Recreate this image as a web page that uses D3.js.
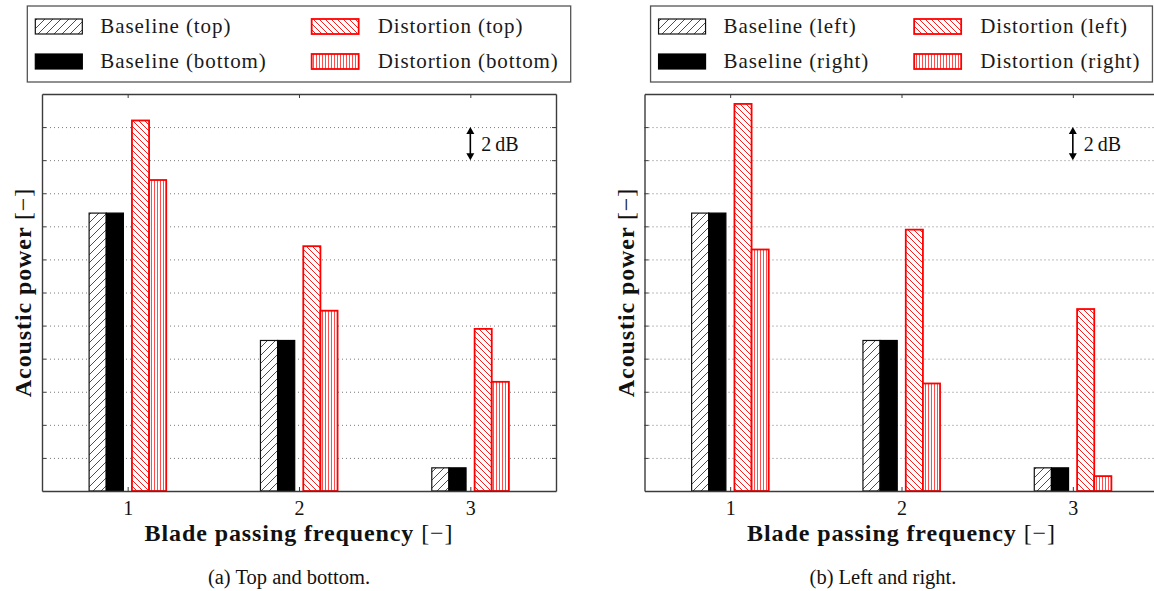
<!DOCTYPE html>
<html>
<head>
<meta charset="utf-8">
<script src="https://cdn.jsdelivr.net/npm/d3@7"></script>
<style>
  body { margin: 0; background: #fff; }
  svg { display: block; }
</style>
</head>
<body>
<svg id="chart" width="1154" height="591"></svg>
<script>
// Harmonics of the blade passing frequency
const harmonics = [1, 2, 3];
// Hidden y ticks (dB scale, one grid step = 2 dB)
const yTicks = [2, 4, 6, 8, 10, 12, 14, 16, 18, 20, 22];

// (a) top and bottom microphone arrays, relative level in dB
const baselineTop      = [16.8, 9.1, 1.4];
const baselineBottom   = [16.8, 9.1, 1.4];
const distortionTop    = [22.4, 14.8, 9.8];
const distortionBottom = [18.8, 10.9, 6.6];

// (b) left and right microphone arrays, relative level in dB
const baselineLeft    = [16.8, 9.1, 1.4];
const baselineRight   = [16.8, 9.1, 1.4];
const distortionLeft  = [23.4, 15.8, 11.0];
const distortionRight = [14.6, 6.5, 0.9];

const labelsA = ["Baseline (top)", "Baseline (bottom)", "Distortion (top)", "Distortion (bottom)"];
const labelsB = ["Baseline (left)", "Baseline (right)", "Distortion (left)", "Distortion (right)"];
const captions = ["(a) Top and bottom.", "(b) Left and right."];
const xTitle = "Blade passing frequency";
const yTitle = "Acoustic power";
const unitMark = "[\u2212]";
const scaleBarLabel = "2\u2009dB";

const svg = d3.select("#chart");
const SERIF = "'Liberation Serif', 'Times New Roman', serif";

// ---- fill patterns -------------------------------------------------------
const defs = svg.append("defs");
function pattern(id, size, draw) {
  const p = defs.append("pattern").attr("id", id)
    .attr("patternUnits", "userSpaceOnUse").attr("width", size).attr("height", size);
  p.append("rect").attr("width", size).attr("height", size).attr("fill", "#fff");
  draw(p);
}
pattern("hatchFwd", 8, p => p.append("path")
  .attr("d", "M-2,2L2,-2M0,8L8,0M6,10L10,6")
  .attr("stroke", "#3a3a3a").attr("stroke-width", 0.9));
pattern("hatchBack", 6, p => p.append("path")
  .attr("d", "M-1.5,4.5L1.5,7.5M0,0L6,6M4.5,-1.5L7.5,1.5")
  .attr("stroke", "#ff0000").attr("stroke-width", 0.9));
pattern("vertRed", 3, p => p.append("line")
  .attr("x1", 1.5).attr("x2", 1.5).attr("y1", 0).attr("y2", 3)
  .attr("stroke", "#ff2020").attr("stroke-width", 0.8));

// series styles: baseline hatched, baseline solid, distortion hatched, distortion vertical
const seriesStyle = [
  { fill: "url(#hatchFwd)", stroke: "#111", sw: 1.2 },
  { fill: "#000", stroke: "#000", sw: 1.2 },
  { fill: "url(#hatchBack)", stroke: "#ff0000", sw: 1.8 },
  { fill: "url(#vertRed)", stroke: "#ff0000", sw: 1.8 }
];
const seriesOffset = [-0.225, -0.125, 0.025, 0.125];
const barWidth = 0.1;

const panels = [
  { x0: 42,    x1: 556,    captionX: 289, series: [baselineTop, baselineBottom, distortionTop, distortionBottom], labels: labelsA, caption: captions[0] },
  { x0: 644.5, x1: 1158.5, captionX: 883, series: [baselineLeft, baselineRight, distortionLeft, distortionRight], labels: labelsB, caption: captions[1] }
];

const yTop = 94, yBottom = 491;

function styleAxis(a) {
  a.attr("font-family", SERIF).attr("font-size", 20);
  a.select(".domain").attr("stroke", "#3c3c3c").attr("stroke-width", 1.4);
  a.selectAll(".tick line").attr("stroke", "#3c3c3c").attr("stroke-width", 1);
  a.selectAll(".tick text").attr("fill", "#111");
}

panels.forEach(cfg => {
  const g = svg.append("g");
  const x = d3.scaleLinear().domain([0.5, 3.5]).range([cfg.x0, cfg.x1]);
  const y = d3.scaleLinear().domain([0, 24]).range([yBottom, yTop]);
  const w = cfg.x1 - cfg.x0;

  // dotted horizontal grid
  g.append("g").attr("transform", `translate(${cfg.x0},0)`)
    .call(d3.axisLeft(y).tickValues(yTicks).tickSize(-w).tickFormat(""))
    .call(a => a.select(".domain").remove())
    .call(a => a.selectAll("line").attr("stroke", "#7a7a7a").attr("stroke-width", 1).attr("stroke-dasharray", "1,3"));

  // bars
  cfg.series.forEach((vals, si) => {
    const st = seriesStyle[si];
    g.append("g").selectAll("rect").data(harmonics.map((h, i) => ({ h, v: vals[i] })))
      .join("rect")
      .attr("x", d => x(d.h + seriesOffset[si]))
      .attr("width", d => x(d.h + seriesOffset[si] + barWidth) - x(d.h + seriesOffset[si]))
      .attr("y", d => y(d.v))
      .attr("height", d => y(0) - y(d.v))
      .attr("fill", st.fill).attr("stroke", st.stroke).attr("stroke-width", st.sw);
  });

  // frame with inward ticks
  g.append("g").attr("transform", `translate(0,${yBottom})`)
    .call(d3.axisBottom(x).tickValues(harmonics).tickSizeInner(-4).tickSizeOuter(0).tickPadding(10).tickFormat(d3.format("d")))
    .call(styleAxis);
  g.append("g").attr("transform", `translate(0,${yTop})`)
    .call(d3.axisTop(x).tickValues(harmonics).tickSizeInner(-4).tickSizeOuter(0).tickFormat(""))
    .call(styleAxis);
  g.append("g").attr("transform", `translate(${cfg.x0},0)`)
    .call(d3.axisLeft(y).tickValues(yTicks).tickSizeInner(-4).tickSizeOuter(0).tickFormat(""))
    .call(styleAxis);
  g.append("g").attr("transform", `translate(${cfg.x1},0)`)
    .call(d3.axisRight(y).tickValues(yTicks).tickSizeInner(-4).tickSizeOuter(0).tickFormat(""))
    .call(styleAxis);

  // 2 dB scale bar
  const ax = x(3), ya = y(22), yb = y(20);
  const sb = g.append("g").attr("fill", "#000");
  sb.append("line").attr("x1", ax).attr("x2", ax).attr("y1", ya + 5).attr("y2", yb - 5)
    .attr("stroke", "#000").attr("stroke-width", 1.6);
  sb.append("path").attr("d", `M${ax},${ya}L${ax - 4},${ya + 7}L${ax + 4},${ya + 7}Z`);
  sb.append("path").attr("d", `M${ax},${yb}L${ax - 4},${yb - 7}L${ax + 4},${yb - 7}Z`);
  sb.append("text").attr("x", ax + 11).attr("y", (ya + yb) / 2 + 7)
    .attr("font-family", SERIF).attr("font-size", 20).attr("fill", "#111")
    .text(scaleBarLabel);

  // axis titles
  const xt = g.append("text").attr("x", x(2)).attr("y", 541).attr("text-anchor", "middle")
    .attr("font-family", SERIF).attr("font-size", 24).attr("font-weight", "bold")
    .attr("letter-spacing", 0.9).attr("fill", "#111");
  xt.append("tspan").text(xTitle + " ");
  xt.append("tspan").attr("font-weight", "normal").text(unitMark);

  const yt = g.append("text")
    .attr("transform", `translate(${cfg.x0 - 11},${(yTop + yBottom) / 2}) rotate(-90)`)
    .attr("text-anchor", "middle")
    .attr("font-family", SERIF).attr("font-size", 24).attr("font-weight", "bold")
    .attr("letter-spacing", 0.9).attr("fill", "#111");
  yt.append("tspan").text(yTitle + " ");
  yt.append("tspan").attr("font-weight", "normal").text(unitMark);

  // caption
  g.append("text").attr("x", cfg.captionX).attr("y", 584).attr("text-anchor", "middle")
    .attr("font-family", SERIF).attr("font-size", 20.5).attr("fill", "#111")
    .text(cfg.caption);

  // legend, two columns, centred over the middle harmonic
  const lg = g.append("g");
  const box = lg.append("rect").attr("fill", "#fff").attr("stroke", "#555").attr("stroke-width", 1.3);
  const rowY = [19, 54];
  const items = lg.selectAll("g.item").data(cfg.labels).join("g").attr("class", "item");
  items.append("rect").attr("width", 47).attr("height", 15).attr("y", (d, i) => rowY[i % 2])
    .attr("fill", (d, i) => seriesStyle[i].fill)
    .attr("stroke", (d, i) => seriesStyle[i].stroke)
    .attr("stroke-width", (d, i) => seriesStyle[i].sw);
  const texts = items.append("text").attr("y", (d, i) => rowY[i % 2] + 14)
    .attr("font-family", SERIF).attr("font-size", 21).attr("letter-spacing", 0.9).attr("fill", "#1a1a1a")
    .text(d => d);
  const widths = texts.nodes().map(n => n.getComputedTextLength());
  const col1 = Math.max(widths[0], widths[1]);
  const col2 = Math.max(widths[2], widths[3]);
  const totalW = 73 + col1 + 45 + 66 + col2 + 12;
  const bx = x(2) - totalW / 2;
  const colX = [bx + 8, bx + 73 + col1 + 45];
  items.select("rect").attr("x", (d, i) => colX[Math.floor(i / 2)]);
  texts.attr("x", (d, i) => colX[Math.floor(i / 2)] + (i < 2 ? 65 : 66));
  box.attr("x", bx).attr("y", 6).attr("width", totalW).attr("height", 76);
});
</script>
</body>
</html>
